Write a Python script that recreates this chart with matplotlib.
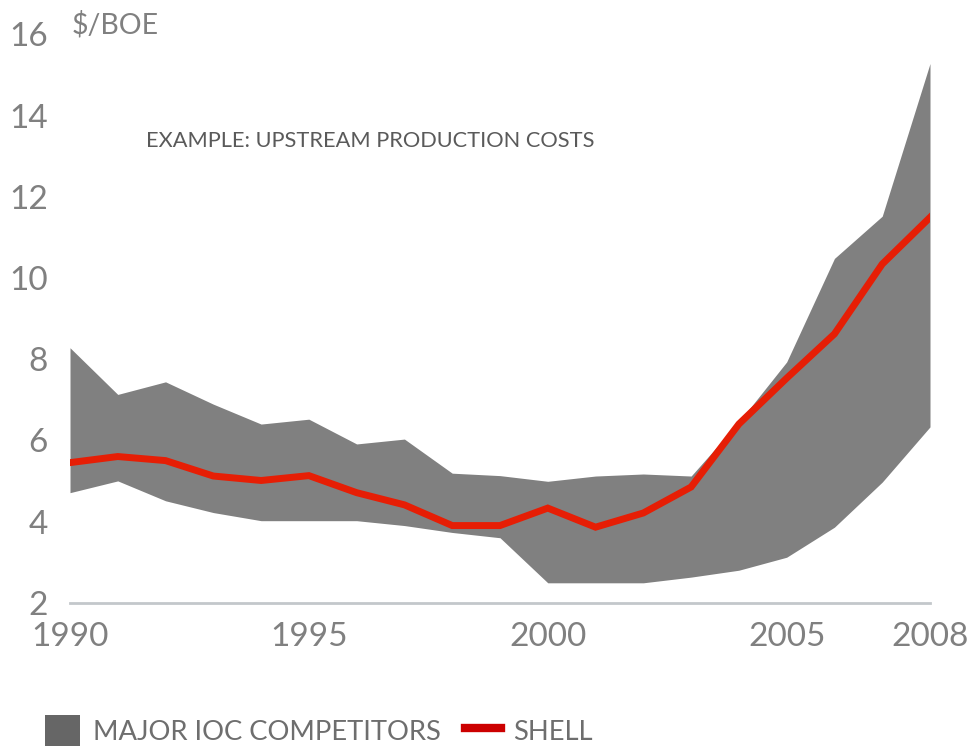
import matplotlib
matplotlib.use("Agg")
import matplotlib.pyplot as plt
from matplotlib.patches import Patch
from matplotlib.lines import Line2D

plt.rcParams['font.family'] = ['Lato', 'DejaVu Sans']

years = list(range(1990, 2009))
competitors_low = [4.71, 5.00, 4.51, 4.22, 4.02, 4.02, 4.02, 3.90, 3.73, 3.60,
                   2.49, 2.49, 2.49, 2.63, 2.80, 3.12, 3.86, 4.97, 6.33]
competitors_high = [8.28, 7.13, 7.44, 6.89, 6.40, 6.52, 5.91, 6.03, 5.19, 5.13,
                    4.99, 5.12, 5.17, 5.12, 6.45, 7.93, 10.48, 11.52, 15.28]
shell = [5.45, 5.60, 5.50, 5.12, 5.01, 5.13, 4.71, 4.41, 3.90, 3.90,
         4.33, 3.86, 4.21, 4.85, 6.40, 7.53, 8.62, 10.34, 11.49]
x_ticks = [1990, 1995, 2000, 2005, 2008]
y_ticks = [2, 4, 6, 8, 10, 12, 14, 16]

band_color = '#808080'
line_color = '#e61e05'
tick_color = '#808080'

fig = plt.figure(figsize=(9.72, 7.46), dpi=100)
ax = fig.add_axes([70/972, (746-602.7)/746, 860/972, (602.7-34.3)/746])

ax.fill_between(years, competitors_low, competitors_high, color=band_color, linewidth=0, zorder=1)
ax.plot(years, shell, color=line_color, linewidth=5, solid_joinstyle='miter', zorder=3)

ax.set_xlim(1990, 2008)
ax.set_ylim(2, 16)
ax.set_xticks(x_ticks)
ax.set_yticks(y_ticks)
ax.set_xticklabels([str(t) for t in x_ticks])
ax.set_yticklabels([str(t) for t in y_ticks])

for s in ['top', 'right', 'left']:
    ax.spines[s].set_visible(False)
ax.spines['bottom'].set_color('#c3c7cb')
ax.spines['bottom'].set_linewidth(2)
ax.spines['bottom'].set_zorder(0)

ax.tick_params(axis='both', length=0, colors=tick_color, labelsize=24)
ax.tick_params(axis='x', pad=14)
ax.tick_params(axis='y', pad=16)
ax.patch.set_alpha(0)

fig.text(72/972, 1 - 25/746, '$/BOE', color=tick_color, fontsize=20.5, va='center', ha='left')
fig.text(146/972, 1 - 141/746, 'EXAMPLE: UPSTREAM PRODUCTION COSTS', color='#5a5a5a', fontsize=15.7,
         va='center', ha='left')

handles = [Patch(facecolor='#666666', edgecolor='none', label='MAJOR IOC COMPETITORS'),
           Line2D([0], [0], color='#cc0000', linewidth=6, label='SHELL')]
leg = fig.legend(handles=handles, loc='center left', bbox_to_anchor=(20/972, 1 - 731/746),
                 ncol=2, frameon=False, fontsize=19.7, handlelength=1.3, handleheight=1.4,
                 handletextpad=0.45, columnspacing=0.9, labelcolor='#6e6e6e')

fig.savefig('out.png', dpi=100)
